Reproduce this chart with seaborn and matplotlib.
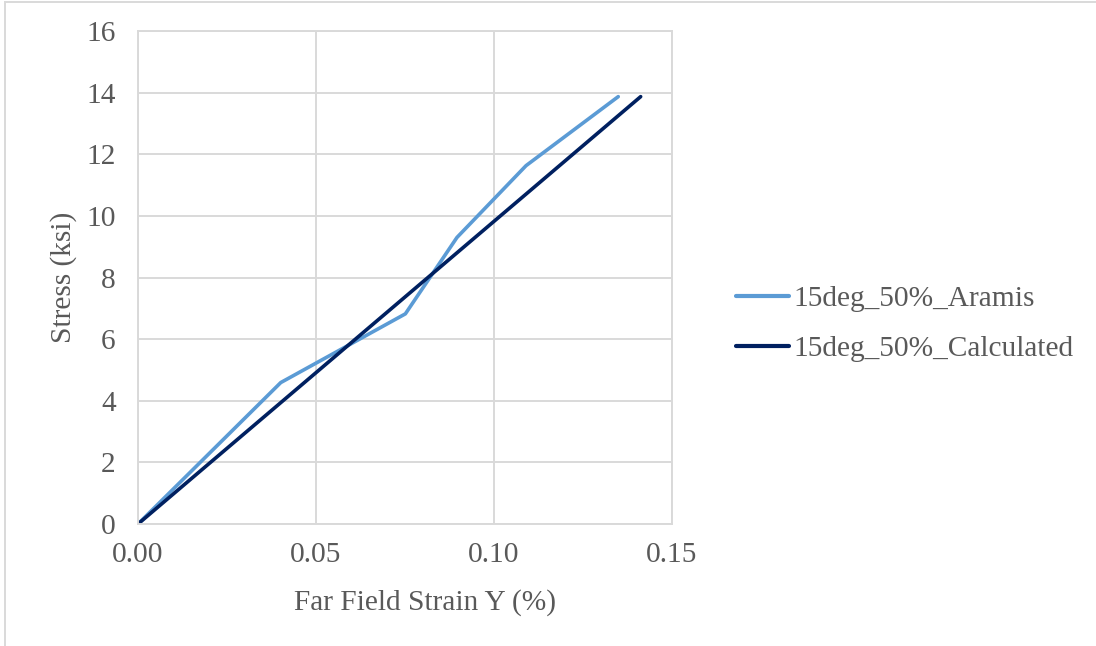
import numpy as np
import pandas as pd
import matplotlib
matplotlib.use("Agg")
import matplotlib.pyplot as plt
from matplotlib.patches import Rectangle
import seaborn as sns

# Measured (Aramis DIC) stress-strain response
aramis_strain = [0.0, 0.0401, 0.0751, 0.0896, 0.1090, 0.1349]
aramis_stress = [0.0, 4.59, 6.82, 9.30, 11.63, 13.87]

# Calculated linear response
calc_strain = [0.0, 0.1412]
calc_stress = [0.0, 13.87]

series_names = ["15deg_50%_Aramis", "15deg_50%_Calculated"]
series_colors = ["#5B9BD5", "#002060"]

x_ticks = [0.00, 0.05, 0.10, 0.15]
y_ticks = [0, 2, 4, 6, 8, 10, 12, 14, 16]

df = pd.concat([
    pd.DataFrame({"strain": aramis_strain, "stress": aramis_stress, "series": series_names[0]}),
    pd.DataFrame({"strain": calc_strain, "stress": calc_stress, "series": series_names[1]}),
], ignore_index=True)

sns.set_style("whitegrid")
plt.rcParams["font.family"] = ["Liberation Serif", "DejaVu Serif"]
text_color = "#595959"
grid_color = "#D9D9D9"
fs = 21.2

fig = plt.figure(figsize=(10.96, 6.46), dpi=100)
ax = fig.add_axes([138 / 1096, 1 - 524 / 646, (672 - 138) / 1096, (524 - 31) / 646])

sns.lineplot(data=df, x="strain", y="stress", hue="series", hue_order=series_names,
             palette=series_colors, estimator=None, sort=False, linewidth=2.6,
             ax=ax, legend=True)

ax.set_xlim(0, 0.15)
ax.set_ylim(0, 16)
ax.set_xticks(x_ticks)
ax.set_xticklabels([f"{v:.2f}" for v in x_ticks])
ax.set_yticks(y_ticks)
ax.set_yticklabels([str(v) for v in y_ticks])
ax.tick_params(axis="both", length=0, labelsize=fs, colors=text_color)
ax.tick_params(axis="x", pad=13)
ax.tick_params(axis="y", pad=16)
ax.grid(True, color=grid_color, linewidth=1.4)
for s in ax.spines.values():
    s.set_visible(True)
    s.set_color(grid_color)
    s.set_linewidth(1.4)

ax.set_xlabel("Far Field Strain Y (%)", fontsize=fs, color=text_color, labelpad=15)
ax.xaxis.label.set_x(0.537)
ax.set_ylabel("Stress (ksi)", fontsize=fs, color=text_color, labelpad=7)

leg = ax.legend(loc="center left", bbox_to_anchor=(736 / 1096, 1 - 324 / 646),
                bbox_transform=fig.transFigure, frameon=False, fontsize=fs,
                handlelength=1.8, handletextpad=0.15, labelspacing=0.8,
                borderpad=0, borderaxespad=0)
for t in leg.get_texts():
    t.set_color(text_color)
for h in leg.get_lines():
    h.set_linewidth(3)

# Chart area border
fig.patches.append(Rectangle((5 / 1096, -0.1), 1.2, 1 - 1.5 / 646 + 0.1,
                             transform=fig.transFigure, fill=False,
                             edgecolor=grid_color, linewidth=1.4))

fig.savefig("out.png", dpi=100, facecolor="white")
